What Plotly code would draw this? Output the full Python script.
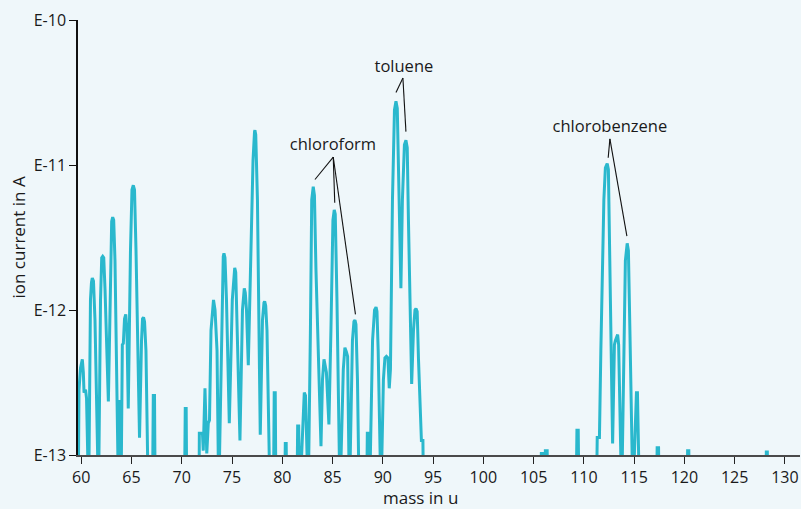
import numpy as np
import plotly.graph_objects as go

# ---- spectrum data (mass in u, log10 of ion current in A); -13.3 = below detection (clipped)
mass_a = [59.70, 59.78, 59.93, 60.11, 60.21, 60.28, 60.43, 60.53, 60.74, 60.92, 61.02, 61.10, 61.22, 61.37,
          61.72, 61.92, 62.04, 62.14, 62.24, 62.37, 62.70, 62.91, 63.03, 63.13, 63.23, 63.36, 63.71, 63.83,
          63.96, 64.09, 64.19, 64.31, 64.43, 64.55, 64.68, 64.90, 65.05, 65.18, 65.30, 65.45, 65.80, 66.00,
          66.10, 66.20, 66.30, 66.44, 66.67, 67.09, 67.17, 67.29, 67.36, 70.27, 70.35, 70.44, 70.50]
logi_a = [-13.3, -12.55, -12.40, -12.34, -12.43, -12.57, -12.55, -12.61, -13.3, -11.93, -11.81, -11.78, -11.80, -12.07,
          -13.3, -11.93, -11.64, -11.63, -11.64, -11.86, -12.63, -11.93, -11.39, -11.36, -11.38, -11.66, -13.3, -12.62,
          -13.3, -12.24, -12.23, -12.06, -12.03, -12.14, -12.68, -11.59, -11.17, -11.14, -11.17, -11.59, -12.88, -12.21,
          -12.06, -12.05, -12.08, -12.28, -13.3, -13.3, -12.59, -12.59, -13.3, -13.3, -12.68, -12.68, -13.3]

mass_b = [71.72, 71.75, 72.06, 72.14, 72.31, 72.49, 72.64, 72.76, 72.91, 73.06, 73.16, 73.31, 73.41, 73.51,
          73.68, 74.00, 74.13, 74.20, 74.30, 74.45, 74.73, 75.03, 75.20, 75.27, 75.37, 75.49, 75.79, 76.04,
          76.16, 76.22, 76.32, 76.44, 76.62, 76.89, 77.09, 77.24, 77.28, 77.36, 77.53, 77.81, 78.03, 78.18,
          78.25, 78.35, 78.48, 78.78, 79.12, 79.20, 79.30, 79.37, 80.24, 80.30, 80.39, 80.44]
logi_b = [-13.3, -12.85, -12.85, -12.97, -12.54, -12.99, -12.78, -12.76, -12.14, -11.97, -11.93, -12.00, -12.12, -12.28,
          -13.3, -11.93, -11.63, -11.61, -11.64, -11.93, -12.78, -11.93, -11.72, -11.71, -11.74, -12.07, -12.90, -12.00,
          -11.86, -11.85, -11.88, -12.00, -12.38, -11.59, -10.97, -10.77, -10.76, -10.79, -11.24, -12.86, -12.07, -11.95,
          -11.94, -11.97, -12.14, -13.3, -13.3, -12.57, -12.57, -13.3, -13.3, -12.92, -12.92, -13.3]

mass_c = [81.46, 81.53, 81.63, 81.74, 82.06, 82.19, 82.31, 82.58, 82.80, 82.93, 83.08, 83.20, 83.35, 83.85,
          84.00, 84.15, 84.39, 84.64, 84.84, 85.04, 85.17, 85.27, 85.44, 85.74, 86.07, 86.23, 86.38, 86.50,
          86.68, 86.98, 87.13, 87.23, 87.33, 87.48, 87.65, 88.40, 88.46, 88.58, 88.68, 88.98, 89.18, 89.33,
          89.42, 89.54, 89.82, 90.06, 90.21, 90.36, 90.51, 90.64, 90.76, 90.96, 91.16, 91.31, 91.44, 91.56,
          91.80, 91.95, 92.15, 92.30, 92.43, 92.55, 92.87, 93.05, 93.20, 93.30, 93.42, 93.55, 93.84, 93.99, 94.05]
logi_c = [-13.3, -12.80, -12.80, -13.3, -12.69, -12.57, -12.59, -13.3, -12.14, -11.24, -11.15, -11.21, -11.72, -12.94,
          -12.48, -12.34, -12.43, -12.79, -12.14, -11.38, -11.31, -11.34, -11.93, -13.3, -12.41, -12.26, -12.29, -12.32,
          -13.3, -12.21, -12.08, -12.07, -12.10, -12.48, -13.3, -13.3, -12.85, -12.85, -13.3, -12.21, -12.00, -11.98,
          -12.01, -12.28, -13.3, -12.48, -12.33, -12.32, -12.33, -12.54, -12.41, -11.24, -10.62, -10.56, -10.61, -11.10,
          -11.85, -11.24, -10.86, -10.83, -10.88, -11.38, -12.51, -12.14, -12.00, -11.99, -12.01, -12.34, -12.90, -12.90, -13.3]

mass_d = [105.73, 105.77, 105.98, 106.03, 106.12, 106.17, 106.35, 106.40, 109.23, 109.31, 109.44, 109.51,
          111.25, 111.33, 111.55, 111.69, 111.84, 111.99, 112.14, 112.32, 112.44, 112.59, 112.86, 113.04,
          113.14, 113.36, 113.46, 113.76, 113.98, 114.13, 114.31, 114.43, 114.58, 114.88, 115.23, 115.33,
          115.53, 117.23, 117.29, 117.43, 117.49, 120.27, 120.32, 120.44, 120.49, 128.09, 128.15, 128.25, 128.30]
logi_d = [-13.3, -12.99, -12.99, -13.3, -13.3, -12.97, -12.97, -13.3, -13.3, -12.83, -12.83, -13.3,
          -13.3, -12.88, -12.88, -12.28, -11.59, -11.24, -11.02, -10.99, -11.03, -11.66, -12.92, -12.24,
          -12.21, -12.17, -12.24, -13.3, -12.14, -11.66, -11.54, -11.59, -12.14, -13.3, -12.57, -12.57,
          -13.3, -13.3, -12.95, -12.95, -13.3, -13.3, -12.97, -12.97, -13.3, -13.3, -12.98, -12.98, -13.3]

# ---- labels with leader lines (label position, then target peaks), mass / log10 current
labels = ["chloroform", "toluene", "chlorobenzene"]
label_mass = [85.04, 92.10, 112.59]
label_log = [-10.87, -10.33, -10.745]
hub_mass = [85.07, 92.00, 112.59]
hub_log = [-10.945, -10.40, -10.82]
target_mass = [[83.25, 85.22, 87.28], [91.31, 92.30], [112.42, 114.28]]
target_log = [[-11.10, -11.26, -12.03], [-10.50, -10.77], [-10.95, -11.49]]

x_ticks = list(range(60, 131, 5))
y_tickvals = [1e-13, 1e-12, 1e-11, 1e-10]
y_ticktext = ["E-13", "E-12", "E-11", "E-10"]

mass = mass_a + mass_b + mass_c + mass_d
current = 10 ** np.array(logi_a + logi_b + logi_c + logi_d)

FONT = "Open Sans"
BG = "#eff7fa"

fig = go.Figure()
fig.add_trace(go.Scatter(x=mass, y=current, mode="lines",
                         line=dict(color="#2ab8cd", width=3), hoverinfo="skip", showlegend=False))

for i, name in enumerate(labels):
    xs, ys = [], []
    for tm, tl in zip(target_mass[i], target_log[i]):
        xs += [hub_mass[i], tm, None]
        ys += [10 ** hub_log[i], 10 ** tl, None]
    fig.add_trace(go.Scatter(x=xs, y=ys, mode="lines", line=dict(color="#111111", width=1.1),
                             hoverinfo="skip", showlegend=False))
    fig.add_trace(go.Scatter(x=[label_mass[i]], y=[10 ** label_log[i]], mode="text", text=[name],
                             textfont=dict(family=FONT, size=16.5, color="#1a1a1a"),
                             hoverinfo="skip", showlegend=False))

fig.update_layout(
    width=801, height=509,
    margin=dict(l=78, r=1, t=20, b=54),
    paper_bgcolor=BG, plot_bgcolor=BG,
    font=dict(family=FONT, size=15, color="#1a1a1a"),
    xaxis=dict(range=[59.68, 131.5], tickvals=x_ticks, ticks="outside", ticklen=7, tickwidth=1.3,
               tickcolor="#222222", showline=True, linecolor="#4a4a4a", linewidth=2,
               showgrid=False, zeroline=False, tickfont=dict(size=16)),
    yaxis=dict(type="log", range=[-13, -10], tickvals=y_tickvals, ticktext=y_ticktext,
               ticks="outside", ticklen=7, tickwidth=1.3, tickcolor="#111111",
               showline=True, linecolor="#111111", linewidth=1.5, showgrid=False, zeroline=False,
               tickfont=dict(size=16)),
    annotations=[
        dict(text="mass in u", xref="paper", yref="paper", x=0.475, y=0, yshift=-42,
             showarrow=False, font=dict(size=17), xanchor="center", yanchor="middle"),
        dict(text="ion current in A", xref="paper", yref="paper", x=0, xshift=-60, y=0.5,
             textangle=-90, showarrow=False, font=dict(size=17), xanchor="center", yanchor="middle"),
    ],
)

fig.write_html("out.html", config={"displayModeBar": False},
               post_script="document.body.style.margin='0px';")
